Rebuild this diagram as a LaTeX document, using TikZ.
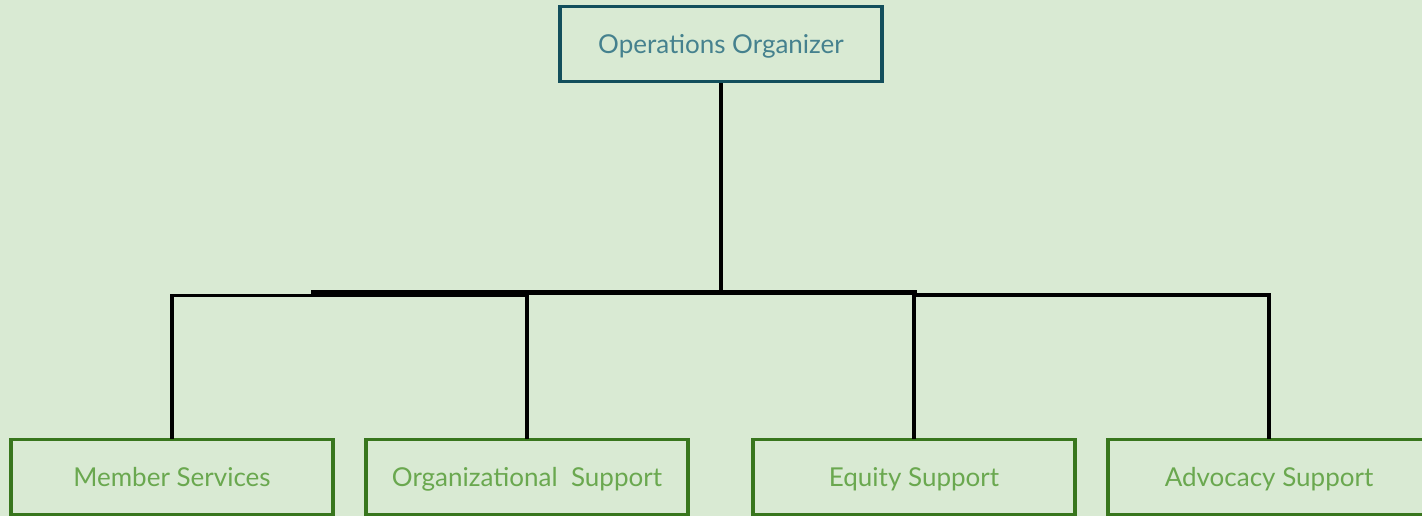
\documentclass[tikz,border=0pt]{standalone}
\usepackage{fontspec}
\setmainfont{Lato}
\definecolor{bg}{HTML}{D9EAD3}
\definecolor{topborder}{HTML}{134F5C}
\definecolor{toptext}{HTML}{45818E}
\definecolor{subborder}{HTML}{38761D}
\definecolor{subtext}{HTML}{6AA84F}
\begin{document}
\begin{tikzpicture}[x=1pt,y=-1pt,
  boxbase/.style={draw, rectangle, line width=3.5pt, minimum width=322pt, minimum height=75pt, inner sep=0pt, text depth=0pt, font=\fontsize{26}{30}\selectfont},
  topbox/.style={boxbase, draw=topborder, text=toptext},
  subbox/.style={boxbase, draw=subborder, text=subtext},
  link/.style={draw=black, line width=3.5pt},
  mainlink/.style={draw=black, line width=4.5pt}
]
\fill[bg] (0,0) rectangle (1422,516);
\clip (0,0) rectangle (1422,516);
\node[topbox] (top) at (721,43.8) {Operations Organizer};
\node[subbox] (ms) at (172,476.8) {Member Services};
\node[subbox] (os) at (527,476.8) {Organizational\ \ Support};
\node[subbox] (es) at (914,476.8) {Equity Support};
\node[subbox] (as) at (1269,476.8) {Advocacy Support};
\coordinate (hl) at (311,292.5);
\coordinate (hr) at (917,292.5);
\coordinate (yl) at (0,295.5);
\coordinate (yr) at (0,295);
\draw[mainlink] (top.south) -- (top.south |- hl);
\draw[mainlink] (hl) -- (hr);
\draw[link,line cap=rect] (ms.north) -- (ms.north |- yl) -| (os.north);
\draw[link,line cap=rect] (es.north) -- (es.north |- yr) -| (as.north);
\end{tikzpicture}
\end{document}
